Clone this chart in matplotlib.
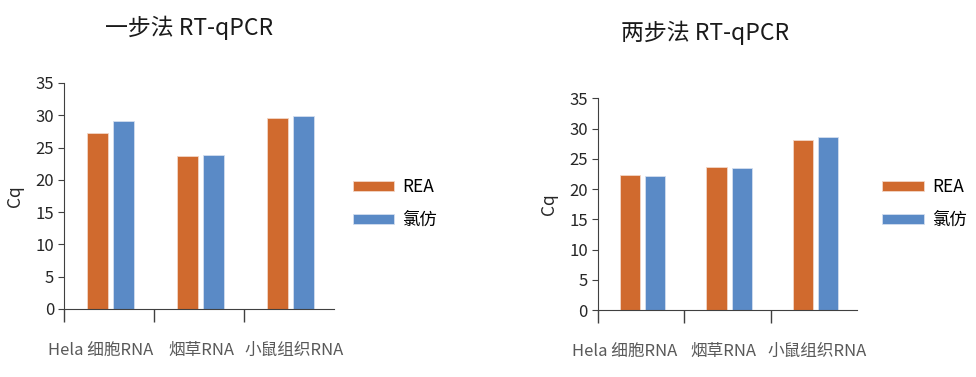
import numpy as np
import matplotlib
matplotlib.use("Agg")
import matplotlib.pyplot as plt
import matplotlib.transforms as mtransforms

plt.rcParams['font.family'] = ['Noto Sans CJK SC', 'DejaVu Sans']

categories = ["Hela 细胞RNA", "烟草RNA", "小鼠组织RNA"]
series_names = ["REA", "氯仿"]
one_step_rea = [27.2, 23.7, 29.6]
one_step_chcl3 = [29.1, 23.8, 29.9]
two_step_rea = [22.3, 23.7, 28.1]
two_step_chcl3 = [22.2, 23.55, 28.6]
yticks = [0, 5, 10, 15, 20, 25, 30, 35]

orange = "#D06A2E"
blue = "#5A8AC6"

fig = plt.figure(figsize=(9.76, 3.77), dpi=100)
ax1 = fig.add_axes([0.0656, 0.1804, 0.2766, 0.5995])
ax2 = fig.add_axes([0.6124, 0.1777, 0.2657, 0.5615])

x = np.arange(len(categories))
w = 0.233
off = 0.145


def draw(ax, rea, chcl3, shifts):
    b1 = ax.bar(x - off + 0.02, rea, w, color=orange, edgecolor="#F2D6C6", linewidth=0.6)
    b2 = ax.bar(x + off + 0.02, chcl3, w, color=blue, edgecolor="#D3DEEE", linewidth=0.6)
    ax.set_xlim(-0.5, 2.5)
    ax.set_ylim(0, 35)
    ax.set_yticks(yticks)
    ax.spines["top"].set_visible(False)
    ax.spines["right"].set_visible(False)
    ax.spines["left"].set_color("#404040")
    ax.spines["bottom"].set_color("#404040")
    ax.tick_params(axis="y", direction="out", length=4, color="#404040",
                   labelsize=12, labelcolor="#262626", pad=3)
    ax.set_xticks(x)
    ax.set_xticklabels(categories)
    ax.tick_params(axis="x", which="major", length=0, pad=24,
                   labelsize=12, labelcolor="#595959")
    for lab, dx in zip(ax.get_xticklabels(), shifts):
        lab.set_transform(lab.get_transform() +
                          mtransforms.ScaledTranslation(dx / 100, 0, fig.dpi_scale_trans))
    ax.set_xticks([-0.5, 0.5, 1.5], minor=True)
    ax.tick_params(axis="x", which="minor", direction="out", length=9,
                   width=1, color="#404040")
    ax.set_ylabel("Cq", fontsize=12.5, color="#262626", labelpad=8)
    return b1, b2


h1 = draw(ax1, one_step_rea, one_step_chcl3, [-8, 2, 5])
h2 = draw(ax2, two_step_rea, two_step_chcl3, [-16, -4, 3])

fig.text(0.194, 0.925, "一步法 RT-qPCR", ha="center", va="center", fontsize=16.5, color="#1a1a1a")
fig.text(0.722, 0.912, "两步法 RT-qPCR", ha="center", va="center", fontsize=16.5, color="#1a1a1a")

for ax, h, xa in [(ax1, h1, 0.3615), (ax2, h2, 0.904)]:
    fig.legend(h, series_names, loc="center left", bbox_to_anchor=(xa, 0.46),
               frameon=False, fontsize=12.5, handlelength=2.4, handleheight=0.5,
               labelspacing=0.85, handletextpad=0.45, borderaxespad=0, borderpad=0)

fig.savefig("out.png", dpi=100)
